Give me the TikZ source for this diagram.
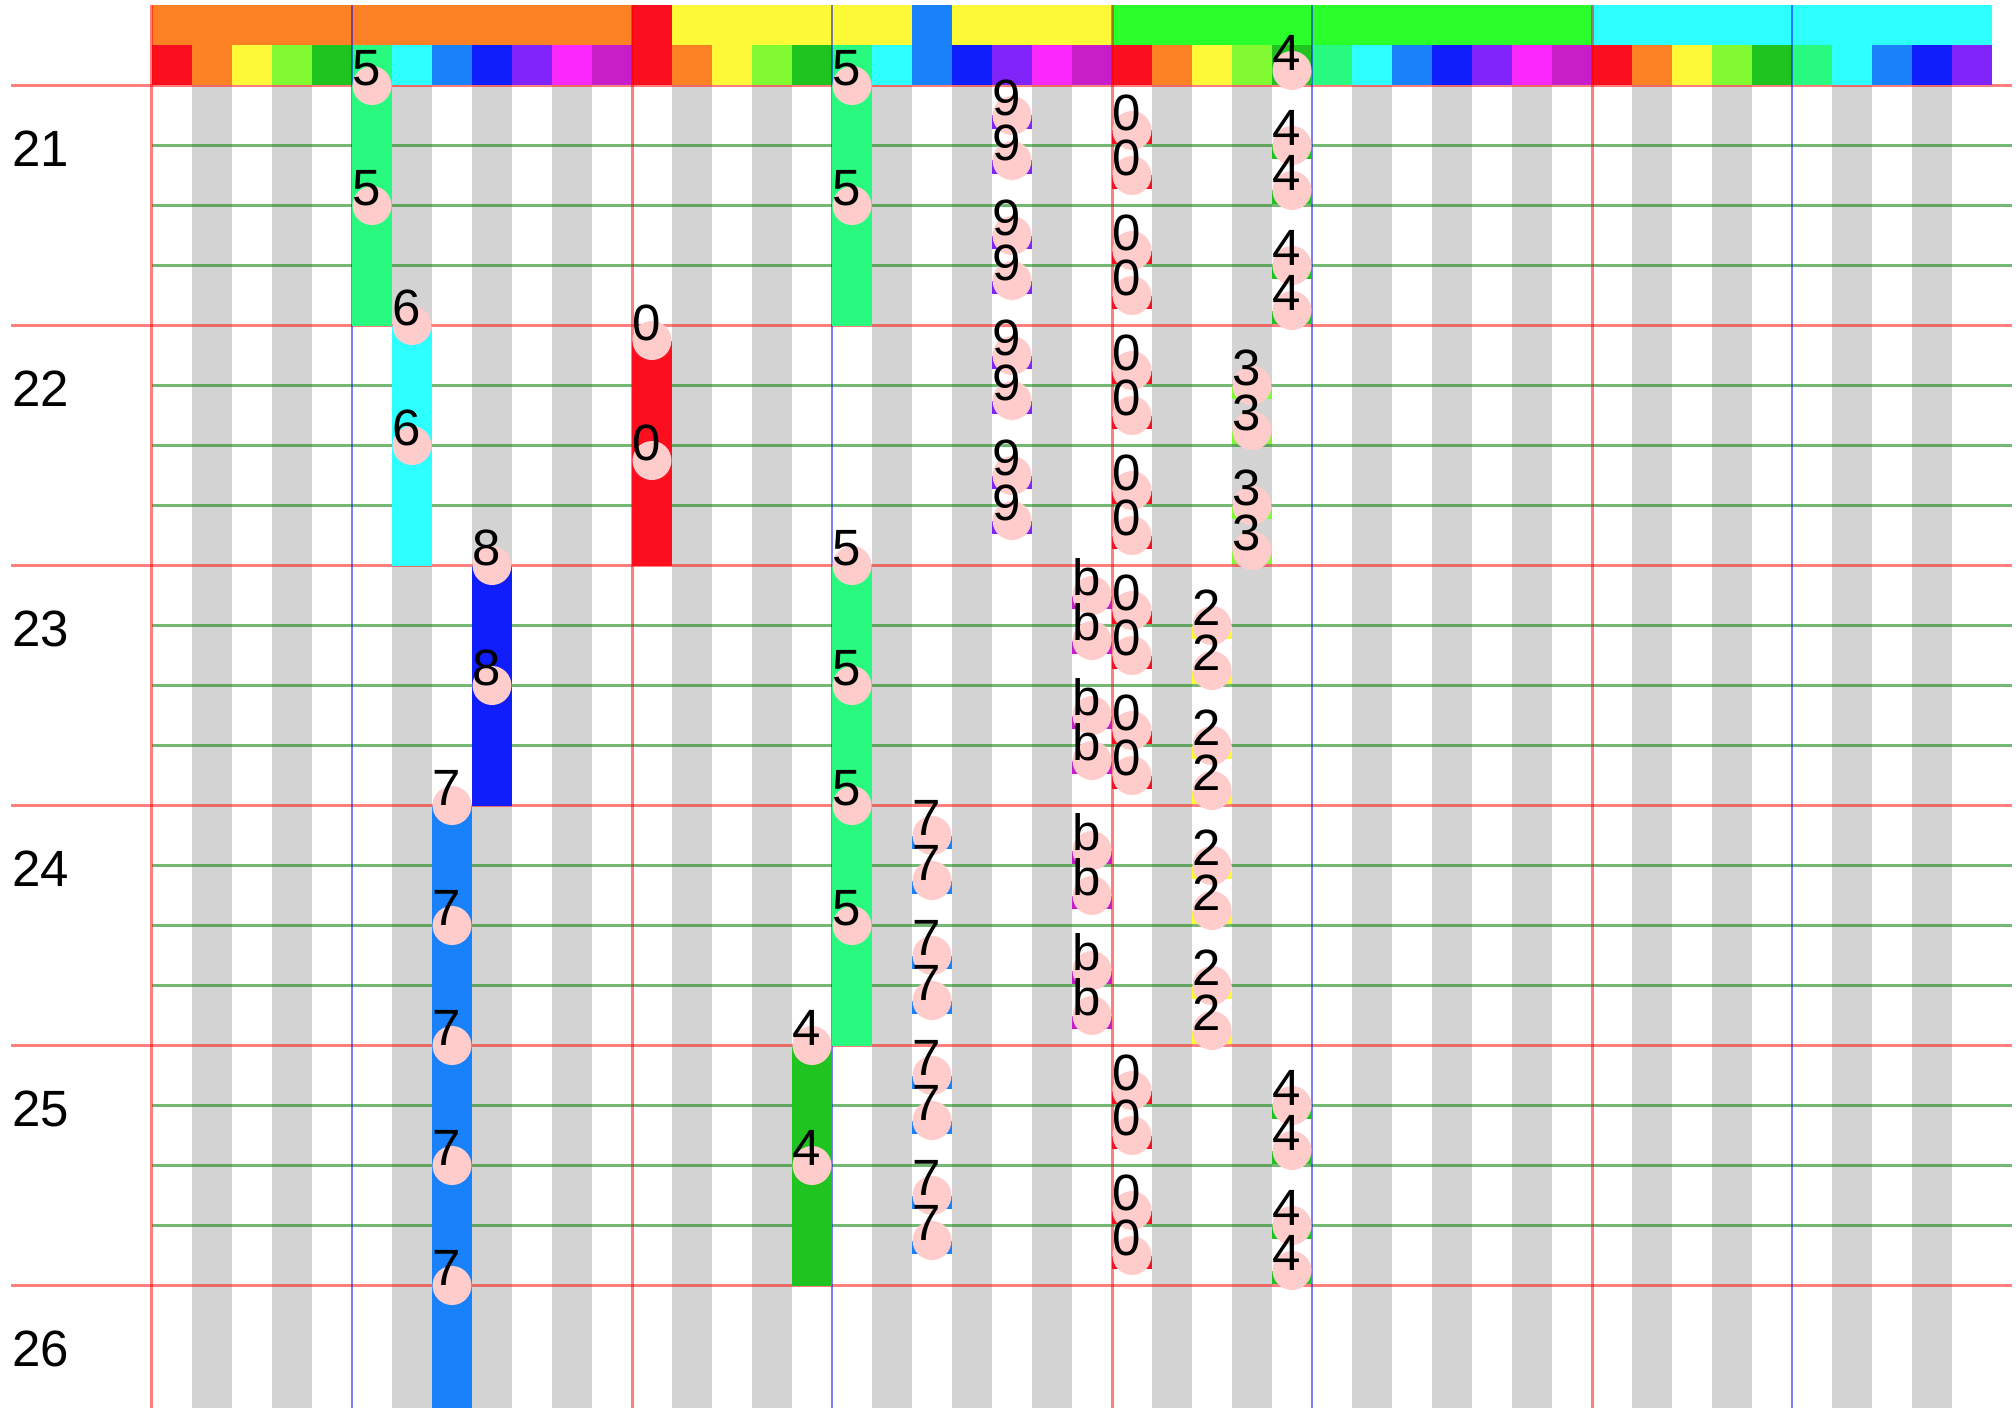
\documentclass[tikz,border=0pt]{standalone}
\usepackage{fontspec}
\setmainfont{Liberation Sans}
\usepackage{xcolor}

% 音名の色
\definecolor{pc0}{HTML}{FB0E1E}
\definecolor{pc1}{HTML}{FC8024}
\definecolor{pc2}{HTML}{FFFA37}
\definecolor{pc3}{HTML}{82FA32}
\definecolor{pc4}{HTML}{20C420}
\definecolor{pc5}{HTML}{28FA80}
\definecolor{pc6}{HTML}{2DFFFF}
\definecolor{pc7}{HTML}{1982FA}
\definecolor{pc8}{HTML}{0F1EFA}
\definecolor{pc9}{HTML}{8024FA}
\definecolor{pca}{HTML}{FA28FA}
\definecolor{pcb}{HTML}{C81EC8}
\colorlet{pc10}{pca}
\colorlet{pc11}{pcb}
\definecolor{octgreen}{HTML}{2BFF2B}
\definecolor{keygrey}{HTML}{D3D3D3}
\definecolor{dotpink}{HTML}{FFCCCC}

\newcommand\pnote[4]{% 名前, 列, 位置, 音名
  \fill[pc#4] (#2,#3) rectangle ++(1,0.22);
  \node[dot] (#1) at (#2+0.5,#3) {};
  \node[lab] (#1-t) at (#2,#3) {#4};}

\begin{document}
\begin{tikzpicture}[x=40pt,y=-60pt,
  beatline/.style={line width=3pt,draw opacity=0.5,red},
  subline/.style={line width=3pt,draw opacity=0.55,green!50!black},
  fline/.style={line width=2.5pt,draw opacity=0.5,blue},
  dot/.style={circle,fill=dotpink,minimum size=39pt,inner sep=0pt},
  lab/.style={anchor=base west,inner sep=0pt,font=\fontsize{51}{60}\selectfont}]

  \useasboundingbox (-3.8,-1.425) rectangle (46.6,22.0417);
  \fill[white] (-3.8,-1.425) rectangle (46.6,22.0417);

  % 黒鍵の列
  \foreach \o in {0,12,24,36}
    \foreach \s in {1,3,6,8,10} {
      \pgfmathtruncatemacro\k{\o+\s}
      \ifnum\k<46 \fill[keygrey] (\k,0) rectangle (\k+1,22.05); \fi
    }

  % 拍の線
  \foreach \r in {0,4,...,20}
    \draw[beatline] (-3.525,\r) -- (46.5,\r);
  \foreach \r in {0,4,...,16}
    \foreach \q in {1,2,3}
      \draw[subline] (0,\r+\q) -- (46.5,\r+\q);

  % 上の色帯
  \foreach \k in {0,...,45} {
    \pgfmathtruncatemacro\p{mod(\k,12)}
    \fill[pc\p] (\k,-0.6667) rectangle (\k+1,0);
  }
  \foreach \a/\b/\c in {0/12/pc1, 12/13/pc0, 13/19/pc2, 19/20/pc7, 20/24/pc2, 24/36/octgreen, 36/46/pc6}
    \fill[\c] (\a,-1.3333) rectangle (\b,-0.6667);

  % 縦線
  \foreach \k in {0,12,24,36}
    \draw[beatline] (\k,-1.3333) -- (\k,22.05);
  \foreach \k in {5,17,29,41}
    \draw[fline] (\k,-1.3333) -- (\k,22.05);

  % 小節番号
  \foreach \n [count=\i from 0] in {21,...,26}
    \node[lab] (row\n) at (-3.5,4*\i+1.35) {\n};

  % 長い音
  \foreach \c/\s/\e/\d in {5/0/4/5, 17/0/4/5, 6/4/8/6, 12/4.25/8/0, 8/8/12/8, 17/8/16/5, 7/12/22.05/7, 16/16/20/4}
    \fill[pc\d] (\c,\s) rectangle (\c+1,\e);
  \foreach \c/\t/\d [count=\i] in {5/0/5, 5/2/5, 17/0/5, 17/2/5, 6/4/6, 6/6/6, 12/4.25/0, 12/6.25/0,
      8/8/8, 8/10/8, 17/8/5, 17/10/5, 17/12/5, 17/14/5, 7/12/7, 7/14/7, 7/16/7, 7/18/7, 7/20/7, 16/16/4, 16/18/4} {
    \node[dot] (on\i) at (\c+0.5,\t) {};
    \node[lab] (tx\i) at (\c,\t) {\d};
  }

  % 分散和音
  \pnote{lead}{28}{-0.25}{4}
  \foreach \r/\ca/\da/\cb/\db/\cc/\dc in {0/21/9/24/0/28/4, 4/21/9/24/0/27/3, 8/23/b/24/0/26/2,
      12/19/7/23/b/26/2, 16/19/7/24/0/28/4}
    \foreach \o [count=\j] in {0.5,1.25,2.5,3.25} {
      \pnote{a\r-\j}{\ca}{\r+\o}{\da}
      \pnote{b\r-\j}{\cb}{\r+\o+0.25}{\db}
      \pnote{c\r-\j}{\cc}{\r+\o+0.5}{\dc}
    }
\end{tikzpicture}
\end{document}
